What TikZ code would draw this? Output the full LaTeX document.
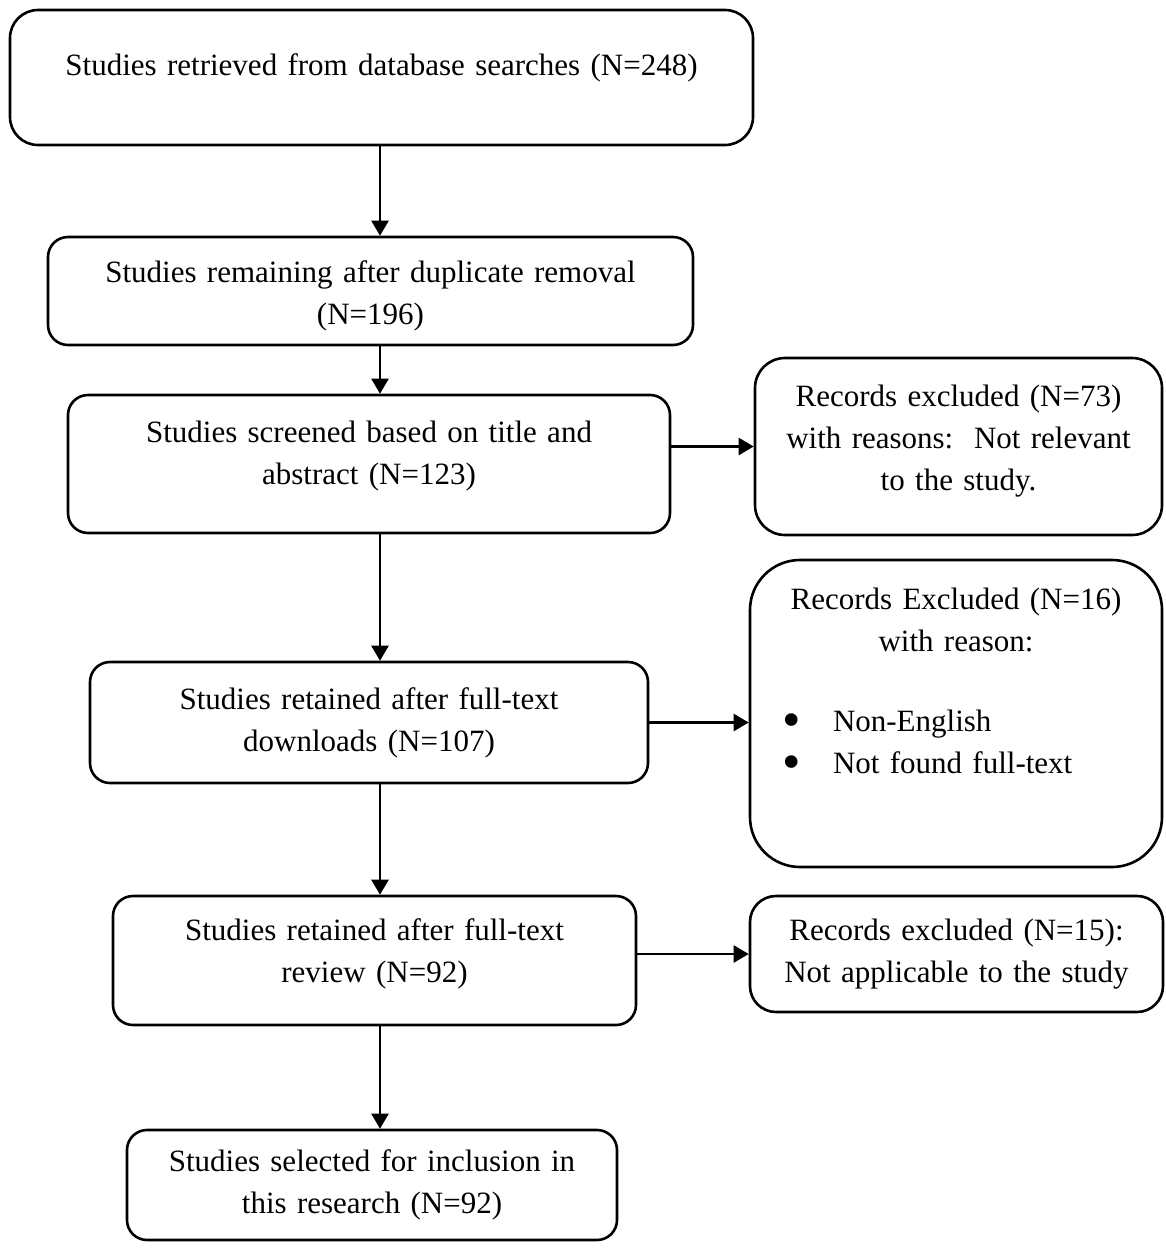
\documentclass[tikz,border=0pt]{standalone}
\usepackage{fontspec}
\setmainfont{Liberation Serif}
\usetikzlibrary{arrows.meta}

\tikzset{
  flowbox/.style={draw, line width=1.3pt, rounded corners=10pt, inner sep=4pt, align=center},
  flowarrow/.style={-{Triangle[length=7.5pt,width=8.5pt]}, line width=1.2pt}
}
% lift the text of a box by #1 (keeps the trailing space in the box)
\newcommand{\liftby}[1]{\par\vspace{#1}\hrule height 0pt}
\newcommand{\bigdot}{\makebox[0pt]{\raisebox{-0.2em}[0pt][0pt]{\scalebox{1.7}{\textbullet}}}}

\begin{document}
\begin{tikzpicture}[x=0.5pt, y=-0.5pt, font=\fontsize{15.5}{21}\selectfont]
  \useasboundingbox (0,0) rectangle (1166,1248);
  % main column
  \node[flowbox, rounded corners=14pt, minimum width=371.5pt, minimum height=67.5pt, text width=363pt] (search) at (381.5,77.5)
    {Studies retrieved from database searches (N=248)\liftby{10pt}};
  \node[flowbox, minimum width=322.5pt, minimum height=54pt, text width=314pt] (dup) at (370.5,291)
    {\hrule height 0pt\vspace{5pt}Studies remaining after duplicate removal\\(N=196)};
  \node[flowbox, minimum width=301pt, minimum height=69pt, text width=293pt] (screen) at (369,464)
    {Studies screened based on title and\\abstract (N=123)\liftby{7.5pt}};
  \node[flowbox, minimum width=279pt, minimum height=60.5pt, text width=271pt] (full) at (369,722.5)
    {Studies retained after full-text\\downloads (N=107)};
  \node[flowbox, minimum width=261.5pt, minimum height=64.5pt, text width=253pt] (review) at (374.5,960.5)
    {Studies retained after full-text\\review (N=92)\liftby{7pt}};
  \node[flowbox, minimum width=245pt, minimum height=55pt, text width=237pt] (incl) at (372,1185)
    {Studies selected for inclusion in\\this research (N=92)};
  % exclusions
  \node[flowbox, rounded corners=15pt, minimum width=203.5pt, minimum height=88.5pt, text width=195pt] (exA) at (958.5,446.5)
    {Records excluded (N=73)\\with reasons:\ \ Not relevant\\to the study.\liftby{5pt}};
  \node[flowbox, rounded corners=25pt, minimum width=206pt, minimum height=153.5pt, text width=198pt] (exB) at (956,713.5)
    {Records Excluded (N=16)\\with reason:\par\vspace{19pt}
     \raggedright\hspace*{17pt}\bigdot\hspace*{20.5pt}Non-English\\
     \hspace*{17pt}\bigdot\hspace*{20.5pt}Not found full-text\liftby{33pt}};
  \node[flowbox, rounded corners=13pt, minimum width=206.5pt, minimum height=58pt, text width=198pt] (exC) at (956.5,954)
    {Records excluded (N=15):\\Not applicable to the study};

  % connectors
  \coordinate (spine) at (380,0);
  \draw[flowarrow] (spine |- search.south) -- (spine |- dup.north);
  \draw[flowarrow] (spine |- dup.south) -- (spine |- screen.north);
  \draw[flowarrow] (spine |- screen.south) -- (spine |- full.north);
  \draw[flowarrow] (spine |- full.south) -- (spine |- review.north);
  \draw[flowarrow] (spine |- review.south) -- (spine |- incl.north);
  \draw[flowarrow] (screen.east |- exA.west) -- (exA.west);
  \draw[flowarrow] (full.east) -- (full.east -| exB.west);
  \draw[flowarrow] (review.east |- exC.west) -- (exC.west);
\end{tikzpicture}
\end{document}
